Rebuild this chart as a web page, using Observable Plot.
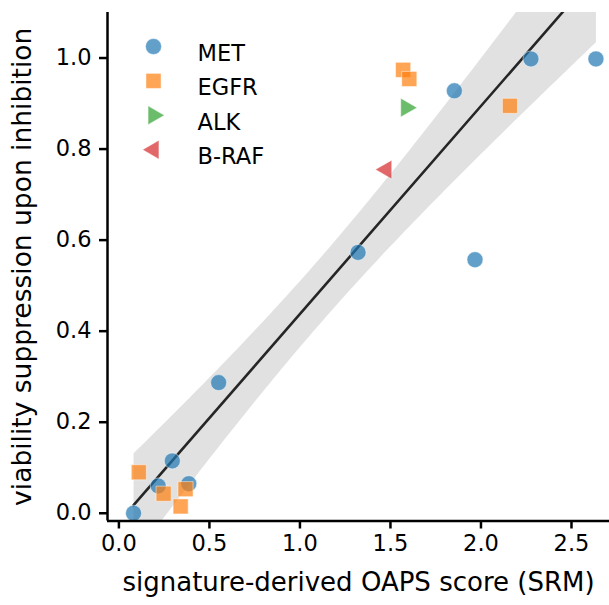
<!DOCTYPE html>
<html><head><meta charset="utf-8">
<script src="https://cdn.jsdelivr.net/npm/d3@7"></script>
<script src="https://cdn.jsdelivr.net/npm/@observablehq/plot@0.6"></script>
<style>
body{margin:0;background:#fff;}
#chart{position:relative;width:609px;height:605px;}
#chart svg{font-family:"DejaVu Sans",sans-serif;}
</style>
</head><body><div id="chart"></div>
<script>
const categories = ["MET", "EGFR", "ALK", "B-RAF"];
const metX  = [0.081, 0.217, 0.295, 0.386, 0.551, 1.321, 1.967, 1.853, 2.276, 2.635];
const metY  = [0.000, 0.060, 0.115, 0.065, 0.287, 0.573, 0.557, 0.928, 0.998, 0.998];
const egfrX = [1.570, 1.604, 2.160, 0.110, 0.247, 0.368, 0.341];
const egfrY = [0.974, 0.954, 0.895, 0.090, 0.043, 0.053, 0.015];
const alkX  = [1.587];
const alkY  = [0.891];
const brafX = [1.477];
const brafY = [0.755];
const xTicks = [0, 0.5, 1.0, 1.5, 2.0, 2.5];
const yTicks = [0, 0.2, 0.4, 0.6, 0.8, 1.0];
const xLabel = "signature-derived OAPS score (SRM)";
const yLabel = "viability suppression upon inhibition";

const colors = ["#1f77b4", "#ff7f0e", "#2ca02c", "#d62728"];
const symbols = ["circle", "square", "triangle", "triangle"];
const rotations = [0, 0, 90, -90];
const radii = [8, 8.5, 7, 7];
const xDomain = [-0.063, 2.71];
const yDomain = [-0.017, 1.1];

const groups = [[metX, metY], [egfrX, egfrY], [alkX, alkY], [brafX, brafY]];
const points = [];
groups.forEach(([xs, ys], g) => xs.forEach((x, i) => points.push({x, y: ys[i], cat: categories[g]})));

const marks = [
  Plot.linearRegressionY(points, {x: "x", y: "y", stroke: "none", fill: "#333", fillOpacity: 0.15, ci: 0.95, clip: true}),
  Plot.linearRegressionY(points, {x: "x", y: "y", stroke: "#262626", strokeWidth: 2.6, strokeOpacity: 1, ci: 0, clip: true}),
];
categories.forEach((c, i) => {
  marks.push(Plot.dot(points.filter(d => d.cat === c), {
    x: "x", y: "y", symbol: symbols[i], r: radii[i], rotate: rotations[i],
    fill: colors[i], fillOpacity: 0.7, stroke: "white", strokeOpacity: 0.6, strokeWidth: 0.8
  }));
  marks.push(Plot.dot([c], {
    frameAnchor: "top-left", dx: 46, dy: 34 + i * 34.4, symbol: symbols[i], r: radii[i], rotate: rotations[i],
    fill: colors[i], fillOpacity: 0.7, stroke: "white", strokeOpacity: 0.6, strokeWidth: 0.8
  }));
  marks.push(Plot.text([c], {
    frameAnchor: "top-left", dx: 90, dy: 32.5 + i * 34.4, text: d => d, textAnchor: "start",
    fontSize: 22.5, fill: "black"
  }));
});
marks.push(
  Plot.ruleX([xDomain[0]], {stroke: "black", strokeWidth: 2.5}),
  Plot.ruleY([yDomain[0]], {stroke: "black", strokeWidth: 2.5}),
  Plot.axisX({ticks: xTicks, tickFormat: d3.format(".1f"), tickSize: 8, tickPadding: 6, fontSize: 22.5,
    strokeWidth: 2.5, stroke: "black", color: "black", label: null}),
  Plot.axisY({ticks: yTicks, tickFormat: d3.format(".1f"), tickSize: 8, tickPadding: 8, fontSize: 22.5,
    strokeWidth: 2.5, stroke: "black", color: "black", label: null}),
  Plot.text([xLabel], {frameAnchor: "bottom", dy: 69.5, text: d => d, textAnchor: "middle", fontSize: 26, fill: "black"}),
  Plot.text([yLabel], {frameAnchor: "left", dx: -85, rotate: -90, text: d => d, textAnchor: "middle", fontSize: 26.5, fill: "black"})
);

const chart = Plot.plot({
  width: 609, height: 605,
  marginLeft: 107, marginRight: 0, marginTop: 12, marginBottom: 84.5,
  style: {fontSize: "22.5px", fontFamily: "'DejaVu Sans', sans-serif", color: "black", background: "white", overflow: "visible"},
  x: {domain: xDomain},
  y: {domain: yDomain},
  marks
});
document.getElementById("chart").appendChild(chart);
</script>
</body></html>
